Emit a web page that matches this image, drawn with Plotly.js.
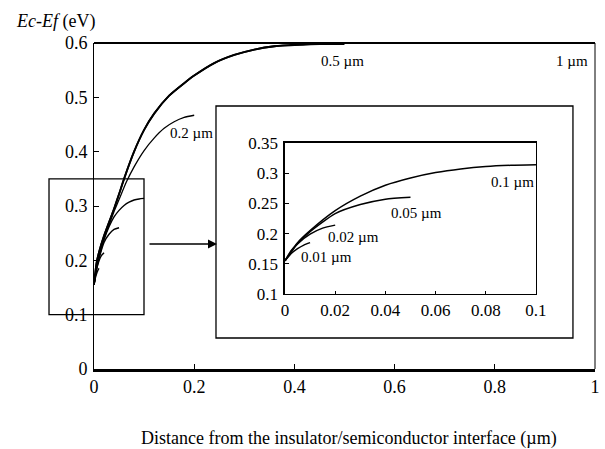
<!DOCTYPE html>
<html>
<head>
<meta charset="utf-8">
<script src="https://cdn.plot.ly/plotly-3.0.1.min.js"></script>
<style>html,body{margin:0;padding:0;background:#fff;}#chart{width:605px;height:449px;}</style>
</head>
<body>
<div id="chart"></div>
<script>
// ---- data (distance in µm, Ec-Ef in eV) ----
const x1um = [0, 0.005, 0.01, 0.02, 0.03, 0.04, 0.05, 0.06, 0.08, 0.1, 0.12, 0.15, 0.18, 0.2, 0.24, 0.28, 0.32, 0.36, 0.4, 0.45, 0.5, 0.6, 0.7, 0.8, 0.9, 1.0];
const y1um = [0.155, 0.195, 0.215, 0.245, 0.27, 0.295, 0.322, 0.35, 0.40, 0.44, 0.47, 0.503, 0.526, 0.54, 0.563, 0.578, 0.588, 0.594, 0.597, 0.599, 0.6, 0.6, 0.6, 0.6, 0.6, 0.6];
const x05um = [0, 0.005, 0.01, 0.02, 0.03, 0.04, 0.05, 0.06, 0.08, 0.1, 0.12, 0.15, 0.18, 0.2, 0.24, 0.28, 0.32, 0.36, 0.4, 0.45, 0.5];
const y05um = [0.155, 0.195, 0.215, 0.245, 0.27, 0.295, 0.322, 0.35, 0.40, 0.44, 0.47, 0.503, 0.526, 0.54, 0.563, 0.578, 0.588, 0.594, 0.596, 0.598, 0.598];
const x02um = [0, 0.01, 0.02, 0.03, 0.04, 0.05, 0.065, 0.08, 0.1, 0.12, 0.14, 0.16, 0.18, 0.2];
const y02um = [0.155, 0.212, 0.24, 0.265, 0.29, 0.312, 0.345, 0.372, 0.402, 0.425, 0.443, 0.455, 0.463, 0.467];
const x01um = [0, 0.005, 0.01, 0.02, 0.03, 0.04, 0.05, 0.06, 0.07, 0.08, 0.09, 0.1];
const y01um = [0.155, 0.185, 0.205, 0.238, 0.262, 0.28, 0.292, 0.301, 0.307, 0.311, 0.313, 0.314];
const x005um = [0, 0.005, 0.01, 0.02, 0.03, 0.04, 0.05];
const y005um = [0.155, 0.183, 0.203, 0.233, 0.248, 0.257, 0.26];
const x002um = [0, 0.0025, 0.005, 0.01, 0.015, 0.02];
const y002um = [0.155, 0.172, 0.183, 0.199, 0.209, 0.214];
const x001um = [0, 0.0025, 0.005, 0.0075, 0.01];
const y001um = [0.155, 0.167, 0.175, 0.181, 0.185];

const mainXTicks = [0, 0.2, 0.4, 0.6, 0.8, 1];
const mainYTicks = [0, 0.1, 0.2, 0.3, 0.4, 0.5, 0.6];
const insetXTicks = [0, 0.02, 0.04, 0.06, 0.08, 0.1];
const insetYTicks = [0.1, 0.15, 0.2, 0.25, 0.3, 0.35];

const FONT = 'Liberation Serif, Times New Roman, serif';
const line = (w) => ({color: '#000', width: w, shape: 'spline', smoothing: 0.6});

const mainSeries = [[x1um, y1um, 1.8], [x05um, y05um, 1.8], [x02um, y02um, 1.3], [x01um, y01um, 1.4], [x005um, y005um, 1.4], [x002um, y002um, 1.4], [x001um, y001um, 1.4]];
const insetSeries = [[x01um, y01um], [x005um, y005um], [x002um, y002um], [x001um, y001um]];

const traces = [];
mainSeries.forEach(s => traces.push({x: s[0], y: s[1], mode: 'lines', line: line(s[2]), xaxis: 'x', yaxis: 'y', hoverinfo: 'skip'}));
insetSeries.forEach(s => traces.push({x: s[0], y: s[1], mode: 'lines', line: line(1.5), xaxis: 'x2', yaxis: 'y2', hoverinfo: 'skip'}));

const layout = {
  width: 605, height: 449,
  margin: {l: 94, r: 10, t: 43, b: 80},
  paper_bgcolor: '#fff',
  plot_bgcolor: 'rgba(0,0,0,0)',
  showlegend: false,
  font: {family: FONT, color: '#000', size: 18},
  xaxis: {
    domain: [0, 1], range: [0, 1], tickvals: mainXTicks, ticks: 'inside', ticklen: 5, tickcolor: '#000',
    showline: true, linewidth: 2.5, linecolor: '#000', showgrid: false, zeroline: false,
    tickfont: {family: FONT, size: 18}, ticklabelstandoff: 0
  },
  yaxis: {
    domain: [0, 1], range: [0, 0.6], tickvals: mainYTicks, ticks: 'inside', ticklen: 5, tickcolor: '#000',
    showline: true, linewidth: 1, linecolor: '#000', showgrid: false, zeroline: false,
    tickfont: {family: FONT, size: 18}, ticklabelstandoff: 2
  },
  xaxis2: {
    domain: [0.3812, 0.8822], range: [0, 0.1], tickvals: insetXTicks, anchor: 'y2', ticks: 'inside', ticklen: 3, tickcolor: '#000',
    showline: true, mirror: true, linewidth: 1.5, linecolor: '#000', showgrid: false, zeroline: false,
    tickfont: {family: FONT, size: 17}, ticklabelstandoff: 0
  },
  yaxis2: {
    domain: [0.2301, 0.6933], range: [0.1, 0.35], tickvals: insetYTicks, anchor: 'x2', ticks: 'inside', ticklen: 4, tickcolor: '#000',
    showline: true, mirror: true, linewidth: 1.5, linecolor: '#000', showgrid: false, zeroline: false,
    tickfont: {family: FONT, size: 17}, ticklabelstandoff: 2
  },
  shapes: [
    // inset frame
    {type: 'rect', xref: 'paper', yref: 'paper', x0: 0.2435, x1: 0.956, y0: 0.0951, y1: 0.8067, line: {color: '#000', width: 1.3}, fillcolor: '#fff', layer: 'below'},
    // main top and right frame lines
    {type: 'line', xref: 'paper', yref: 'paper', x0: 0, x1: 1, y0: 1, y1: 1, line: {color: '#000', width: 1.8}},
    {type: 'line', xref: 'paper', yref: 'paper', x0: 1, x1: 1, y0: 0, y1: 1, line: {color: '#000', width: 1}},
    // zoom rectangle
    {type: 'rect', xref: 'paper', yref: 'y', x0: -0.0898, x1: 0.0998, y0: 0.1, y1: 0.35, line: {color: '#000', width: 1.3}}
  ],
  annotations: [
    {xref: 'paper', yref: 'paper', x: 0.2455, y: 0.3834, ax: -69, ay: 0, axref: 'pixel', ayref: 'pixel', text: '', showarrow: true, arrowhead: 2, arrowsize: 1.2, arrowwidth: 1.5, arrowcolor: '#000'},
    {xref: 'paper', yref: 'paper', x: -0.16, y: 1.066, xanchor: 'left', yanchor: 'middle', text: '<i>Ec-Ef</i> (eV)', showarrow: false, font: {family: FONT, size: 18}},
    {xref: 'paper', yref: 'paper', x: 0.508, y: -0.212, xanchor: 'center', yanchor: 'middle', text: 'Distance from the insulator/semiconductor interface (µm)', showarrow: false, font: {family: FONT, size: 18}},
    {xref: 'x', yref: 'y', x: 0.495, y: 0.567, text: '0.5 µm', showarrow: false, font: {family: FONT, size: 15}},
    {xref: 'x', yref: 'y', x: 0.954, y: 0.567, text: '1 µm', showarrow: false, font: {family: FONT, size: 15}},
    {xref: 'x', yref: 'y', x: 0.195, y: 0.435, text: '0.2 µm', showarrow: false, font: {family: FONT, size: 15}},
    {xref: 'x2', yref: 'y2', x: 0.0908, y: 0.285, text: '0.1 µm', showarrow: false, font: {family: FONT, size: 15}},
    {xref: 'x2', yref: 'y2', x: 0.0525, y: 0.234, text: '0.05 µm', showarrow: false, font: {family: FONT, size: 15}},
    {xref: 'x2', yref: 'y2', x: 0.0272, y: 0.195, text: '0.02 µm', showarrow: false, font: {family: FONT, size: 15}},
    {xref: 'x2', yref: 'y2', x: 0.0166, y: 0.162, text: '0.01 µm', showarrow: false, font: {family: FONT, size: 15}}
  ]
};

Plotly.newPlot('chart', traces, layout, {staticPlot: true, displayModeBar: false});
</script>
</body>
</html>
